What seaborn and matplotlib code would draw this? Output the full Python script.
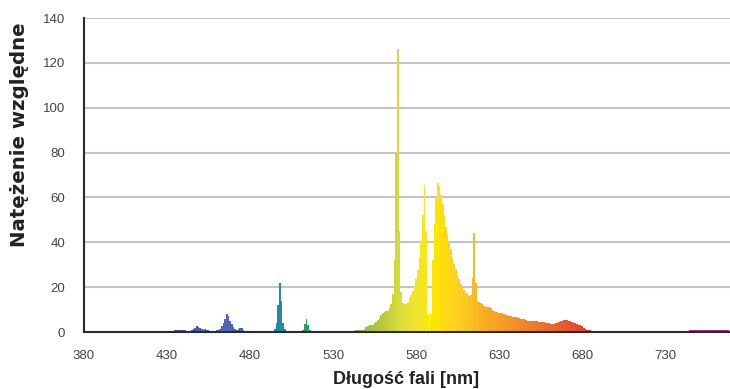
import numpy as np
import pandas as pd
import matplotlib
matplotlib.use("Agg")
import matplotlib.pyplot as plt
from matplotlib.colors import LinearSegmentedColormap
import seaborn as sns

# wavelengths 380..768 nm, 1 nm step
wavelength = list(range(380, 769))

# relative intensity, one value per nm
intensity = (
    [0.6] * 10                                                     # 380-389
    + [0.2] * 36                                                   # 390-425
    + [0.4] * 9                                                    # 426-434
    + [0.8, 1.0, 0.9, 0.8, 0.9, 1.0, 0.8, 0.5, 0.4, 0.5]           # 435-444
    + [0.8, 1.3, 2.0, 2.5, 2.4, 1.8, 1.2, 1.0, 1.2, 1.1]           # 445-454
    + [0.8, 0.6, 0.5, 0.5, 0.6, 0.8, 1.0, 1.5, 2.5, 4.0]           # 455-464
    + [6.0, 8.2, 7.0, 5.0, 3.5, 2.2, 1.5, 1.0, 1.3, 1.9]           # 465-474
    + [1.6, 0.8, 0.4, 0.3, 0.2]                                    # 475-479
    + [0.2] * 13                                                   # 480-492
    + [0.3, 0.6, 1.2, 4.0, 12.0, 22.0, 14.0, 4.0, 1.2, 0.5]        # 493-502
    + [0.3, 0.2, 0.2, 0.2, 0.2, 0.2, 0.2, 0.2]                     # 503-510
    + [0.3, 1.0, 3.5, 5.6, 3.0, 0.8, 0.3]                          # 511-517
    + [0.15] * 23                                                  # 518-540
    + [0.3, 0.4, 0.5, 0.8, 0.9, 0.7, 0.8, 1.0, 1.5, 2.2]           # 541-550
    + [2.8, 3.0, 3.1, 3.3, 3.8, 4.6, 5.4, 6.3, 7.4, 8.4]           # 551-560
    + [9.0, 9.3, 9.5, 10.5, 12.5, 17.0, 32.0, 80.0, 126.0, 45.0]   # 561-570
    + [18.0, 13.0, 12.4, 12.6, 13.5, 15.0, 16.6, 18.4, 20.5, 23.5] # 571-580
    + [27.5, 33.0, 40.0, 52.0, 65.5, 45.0, 8.0, 0.3, 8.0, 32.0]    # 581-590
    + [48.0, 60.0, 66.5, 65.0, 61.0, 57.0, 52.0, 47.0, 43.5, 40.5] # 591-600
    + [37.0, 33.5, 30.5, 28.0, 25.5, 23.5, 21.5, 20.0, 18.6, 17.6] # 601-610
    + [16.8, 16.2, 16.5, 24.0, 44.0, 22.0, 14.0, 13.2, 12.8, 12.4] # 611-620
    + [11.6, 11.2, 11.0, 11.0, 10.6, 9.6, 9.2, 9.0, 8.7, 8.6]      # 621-630
    + [8.5, 8.5, 8.2, 7.8, 7.6, 7.3, 7.0, 6.8, 6.7, 6.6]           # 631-640
    + [6.5, 6.4, 6.0, 5.8, 5.6, 5.3, 5.0, 4.9, 5.0, 5.0]           # 641-650
    + [4.9, 4.8, 4.7, 4.6, 4.5, 4.4, 4.3, 4.2, 3.9, 3.8]           # 651-660
    + [3.5, 3.4, 3.7, 4.0, 4.2, 4.6, 4.9, 5.0, 5.2, 5.3]           # 661-670
    + [5.2, 5.0, 4.7, 4.4, 4.1, 3.9, 3.6, 3.3, 3.0, 2.5]           # 671-680
    + [1.9, 1.4, 1.0, 0.8, 0.7, 0.6, 0.4, 0.3]                     # 681-688
    + [0.25] * 56                                                  # 689-744
    + [0.9] * 24                                                   # 745-768
)

xtick_pos = list(range(380, 760, 25))
xtick_labels = [str(t) if (t - 380) % 50 == 0 else "" for t in xtick_pos]
yticks = [0, 20, 40, 60, 80, 100, 120, 140]

# spectral colour ramp (nm -> colour)
stops = [
    (380, "#b0308a"), (400, "#6a3a9a"), (425, "#3c3f9a"), (440, "#4658b0"),
    (465, "#4e66b8"), (480, "#3a70b0"), (495, "#1e88a8"), (505, "#1a9a90"),
    (514, "#22a060"), (530, "#6aae3a"), (545, "#90b838"), (560, "#bcc838"),
    (570, "#d8dc38"), (580, "#f0e630"), (590, "#ffe600"), (605, "#fcd220"),
    (620, "#f8b020"), (640, "#f39028"), (660, "#ec6a2c"), (675, "#e6502e"),
    (690, "#d63030"), (720, "#b02040"), (745, "#c0288a"), (770, "#b02890"),
]
lo, hi = stops[0][0], stops[-1][0]
cmap = LinearSegmentedColormap.from_list(
    "spec", [((w - lo) / (hi - lo), c) for w, c in stops])
colors = [cmap((w - lo) / (hi - lo)) for w in wavelength]

df = pd.DataFrame({"wl": wavelength, "val": intensity})

sns.set_style("white")
plt.rcParams["font.family"] = ["Liberation Sans", "DejaVu Sans"]

fig = plt.figure(figsize=(7.3, 3.89), dpi=100)
ax = fig.add_axes([0.115, 0.1465, 0.885, 0.8072])

ax.yaxis.grid(True, color="#c4c4c4", lw=1.5)
ax.set_axisbelow(True)

sns.barplot(data=df, x="wl", y="val", hue="wl", palette=colors,
            native_scale=True, width=1.0, errorbar=None, saturation=1,
            legend=False, linewidth=0, ax=ax)

ax.set_xlim(380, 769)
ax.set_ylim(0, 140)
ax.set_xticks(xtick_pos)
ax.set_xticklabels(xtick_labels)
ax.set_yticks(yticks)

for s in ["top", "right"]:
    ax.spines[s].set_visible(False)
for s in ["left", "bottom"]:
    ax.spines[s].set_color("#2a2a2a")
    ax.spines[s].set_linewidth(1.5)

ax.tick_params(axis="both", direction="out", length=3.6, width=1.5,
               color="#2a2a2a", labelcolor="#444444", labelsize=9.5)
ax.tick_params(axis="y", pad=10)
ax.tick_params(axis="x", pad=9)

ax.set_xlabel("Długość fali [nm]", fontsize=13, fontweight="bold",
              color="#222222")
ax.set_ylabel("Natężenie względne", fontsize=14.2, fontweight="bold",
              color="#222222", family=["DejaVu Sans"])
ax.xaxis.set_label_coords(0.498, -0.125)
ax.yaxis.set_label_coords(-0.085, 0.63)

fig.savefig("out.png", dpi=100)
